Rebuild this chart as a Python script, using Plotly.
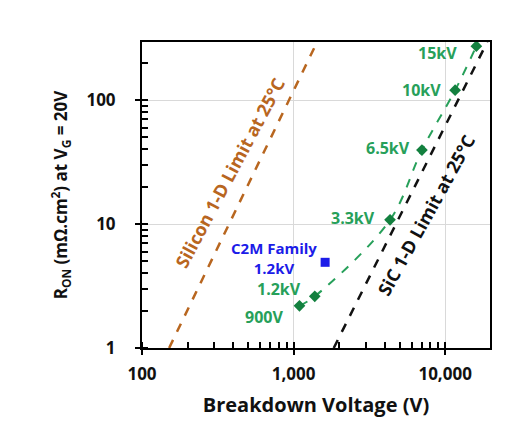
import math
import plotly.graph_objects as go

# Data
dev_labels = ["900V", "1.2kV", "3.3kV", "6.5kV", "10kV", "15kV"]
dev_v = [1094, 1380, 4330, 7030, 11640, 16070]
dev_r = [2.19, 2.61, 10.8, 39.5, 120, 272]

c2m_label = "C2M Family<br>1.2kV"
c2m_v = [1615]
c2m_r = [4.91]

si_label = "Silicon 1-D Limit at 25°C"
si_v = [151, 1430]
si_r = [1, 294]

sic_label = "SiC 1-D Limit at 25°C"
sic_v = [1841, 18970]
sic_r = [1, 294]

x_ticks = [100, 1000, 10000]
x_ticktext = ["100", "1,000", "10,000"]
y_ticks = [1, 10, 100]
y_ticktext = ["1", "10", "100"]

GREEN_T = "#27A05A"
GREEN_M = "#13803F"
BROWN = "#B8661F"
BLUE = "#1C1CE8"
FONT = "Open Sans"
lg = math.log10

fig = go.Figure()
fig.add_trace(go.Scatter(x=si_v, y=si_r, mode="lines",
                         line=dict(color=BROWN, width=2.5, dash="dash"), hoverinfo="skip"))
fig.add_trace(go.Scatter(x=sic_v, y=sic_r, mode="lines",
                         line=dict(color="#111111", width=2.5, dash="dash"), hoverinfo="skip"))
fig.add_trace(go.Scatter(x=dev_v, y=dev_r, mode="lines+markers",
                         line=dict(color=GREEN_T, width=2, dash="dash", shape="spline", smoothing=1.0),
                         marker=dict(symbol="diamond", size=9, color=GREEN_M)))
fig.add_trace(go.Scatter(x=c2m_v, y=c2m_r, mode="markers",
                         marker=dict(symbol="square", size=9, color=BLUE)))

# point labels (offsets in pixels)
shifts = {
    "900V": (-14, -11),
    "1.2kV": (-12, 7),
    "3.3kV": (-13, 2),
    "6.5kV": (-10, 2),
    "10kV": (-12, 0),
    "15kV": (-17, -7),
}
for lab, v, r in zip(dev_labels, dev_v, dev_r):
    dx, dy = shifts[lab]
    fig.add_annotation(x=lg(v), y=lg(r), xref="x", yref="y", text=lab, showarrow=False,
                       xanchor="right", yanchor="middle", xshift=dx, yshift=dy,
                       font=dict(family=FONT, size=16, color=GREEN_T, weight="bold"))

fig.add_annotation(x=lg(c2m_v[0]), y=lg(c2m_r[0]), text=c2m_label, showarrow=False,
                   xanchor="center", yanchor="middle", xshift=-51, yshift=4, align="center",
                   font=dict(family=FONT, size=15, color=BLUE, weight="bold"))

# rotated line labels, placed beside each limit line
fig.add_annotation(x=lg(409), y=lg(25.8), text=si_label, showarrow=False, xshift=-5,
                   textangle=-62, font=dict(family=FONT, size=18, color=BROWN, weight="bold"))
fig.add_annotation(x=lg(7500), y=lg(11.8), text=sic_label, showarrow=False,
                   textangle=-61, font=dict(family=FONT, size=18, color="#111111", weight="bold"))

axis_common = dict(
    type="log", showline=True, linecolor="black", linewidth=2, mirror=True,
    showgrid=True, gridcolor="#D9D9D9", gridwidth=1, zeroline=False,
    ticks="outside", ticklen=5, tickwidth=2, tickcolor="black",
    tickfont=dict(family=FONT, size=17, color="#111111", weight="bold"),
    minor=dict(dtick="D1", ticks="inside", ticklen=6, tickwidth=1.5, tickcolor="black", showgrid=False),
)
fig.update_xaxes(**axis_common, range=[2, 4.296], tickvals=x_ticks, ticktext=x_ticktext,
                 ticklabelstandoff=5,
                 title=dict(text="Breakdown Voltage (V)", standoff=14,
                            font=dict(family=FONT, size=20, color="#111111", weight="bold")))
fig.update_yaxes(**axis_common, range=[0, 2.468], tickvals=y_ticks, ticktext=y_ticktext,
                 ticklabelstandoff=16,
                 title=dict(text="R<sub>ON</sub> (mΩ.cm<sup>2</sup>) at V<sub>G</sub> = 20V", standoff=14,
                            font=dict(family=FONT, size=17, color="#111111", weight="bold")))

# the page body adds an 8px offset; size the figure so the plot lands where the reference has it
fig.update_layout(width=521, height=421, showlegend=False,
                  margin=dict(l=134, r=39, t=34, b=81, autoexpand=False),
                  paper_bgcolor="white", plot_bgcolor="white")

fig.write_html("out.html")
